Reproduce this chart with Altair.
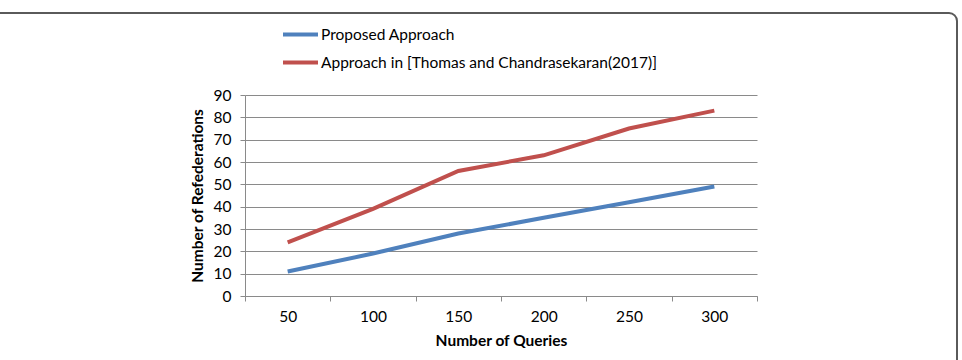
import altair as alt
import pandas as pd

# Number of queries on the x axis
queries = [50, 100, 150, 200, 250, 300]
# Refederation counts for each approach
proposed = [11, 19, 28, 35, 42, 49]
thomas = [24, 39, 56, 63, 75, 83]

series_names = [
    "Proposed Approach",
    "Approach in [Thomas and Chandrasekaran(2017)]",
]
series_colors = ["#4F81BD", "#C0504D"]

rows = []
for q, a, b in zip(queries, proposed, thomas):
    rows.append({"queries": q, "value": a, "series": series_names[0], "order": 0})
    rows.append({"queries": q, "value": b, "series": series_names[1], "order": 1})
df = pd.DataFrame(rows)

FONT = "Lato"
GRID = "#8a8a8a"
LABEL_SIZE = 15.5
TITLE_SIZE = 15.5

x_axis = alt.Axis(
    values=[25, 50, 75, 100, 125, 150, 175, 200, 225, 250, 275, 300, 325],
    labelExpr="datum.value % 50 == 0 ? datum.label : ''",
    tickOpacity=alt.expr("datum.value % 50 == 0 ? 0 : 1"),
    title="Number of Queries",
    grid=False,
    tickSize=5,
    tickColor=GRID,
    domainColor=GRID,
    labelFont=FONT,
    labelFontSize=LABEL_SIZE,
    labelColor="#000000",
    labelPadding=8,
    labelOverlap=False,
    titleFont=FONT,
    titleFontSize=TITLE_SIZE,
    titleFontWeight="bold",
    titleColor="#000000",
    titlePadding=9,
)

y_axis = alt.Axis(
    values=list(range(0, 91, 10)),
    title="Number of Refederations",
    grid=True,
    gridColor=GRID,
    gridWidth=1,
    tickSize=5,
    tickColor=GRID,
    domainColor=GRID,
    labelFont=FONT,
    labelFontSize=LABEL_SIZE,
    labelColor="#000000",
    labelPadding=9,
    titleFont=FONT,
    titleFontSize=TITLE_SIZE,
    titleFontWeight="bold",
    titleColor="#000000",
    titlePadding=8,
)

lines = alt.Chart(df).mark_line(strokeWidth=4).encode(
    x=alt.X("queries:Q", scale=alt.Scale(domain=[25, 325], nice=False, zero=False), axis=x_axis),
    y=alt.Y("value:Q", scale=alt.Scale(domain=[0, 90], nice=False), axis=y_axis),
    color=alt.Color(
        "series:N",
        scale=alt.Scale(domain=series_names, range=series_colors),
        legend=alt.Legend(
            title=None,
            orient="none",
            legendX=36,
            legendY=-80,
            direction="vertical",
            symbolType="stroke",
            symbolStrokeWidth=4,
            symbolSize=1225,
            labelFont=FONT,
            labelFontSize=LABEL_SIZE,
            labelColor="#000000",
            labelOffset=1,
            labelLimit=0,
            rowPadding=-5,
        ),
    ),
    order="order:Q",
)

# rounded frame around the figure
frame = alt.Chart(pd.DataFrame({"k": [0]})).mark_rect(
    fill=None, stroke="#5a5a5a", strokeWidth=2, cornerRadius=8
).encode(
    x=alt.value(-262),
    x2=alt.value(712),
    y=alt.value(-82),
    y2=alt.value(400),
)

chart = alt.layer(lines, frame).properties(
    width=512,
    height=201,
    padding={"left": 245, "top": 95, "right": 205, "bottom": 64},
    autosize=alt.AutoSizeParams(type="none"),
    background="#ffffff",
).configure_view(stroke=None)

chart.save("out.html", embed_options={"renderer": "svg", "actions": False})
